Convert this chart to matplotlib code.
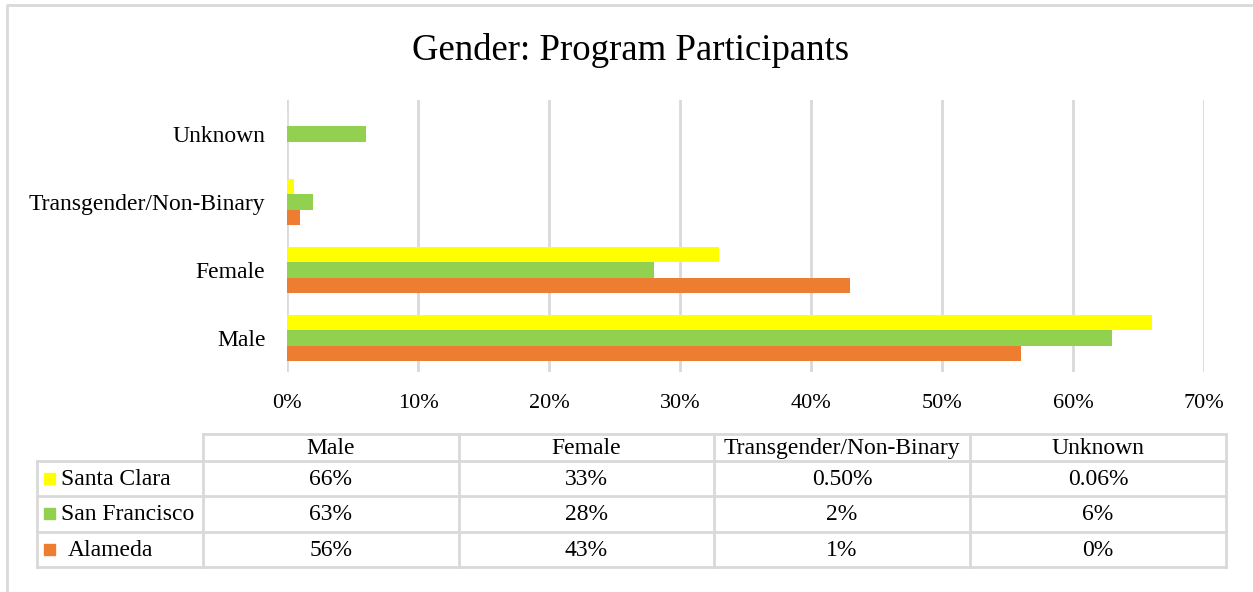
import matplotlib.pyplot as plt

plt.rcParams['font.family'] = ['Liberation Serif', 'DejaVu Serif']

# data
categories = ['Male', 'Female', 'Transgender/Non-Binary', 'Unknown']
series = ['Santa Clara', 'San Francisco', 'Alameda']
santa_clara = [66, 33, 0.5, 0.06]
san_francisco = [63, 28, 2, 6]
alameda = [56, 43, 1, 0]
table_text = [
    ['66%', '33%', '0.50%', '0.06%'],
    ['63%', '28%', '2%', '6%'],
    ['56%', '43%', '1%', '0%'],
]
x_ticks = [0, 10, 20, 30, 40, 50, 60, 70]

colors = ['#FFFF00', '#92D050', '#ED7D31']
grid_c = '#D9D9D9'

W, H = 1253, 592
fig = plt.figure(figsize=(W / 100, H / 100), dpi=100)

# bar chart axes (pixel box: 287..1204 x 100..372)
ax = fig.add_axes([287 / W, 1 - 372 / H, (1204 - 287) / W, (372 - 100) / H])
bh = 0.225
ypos = list(range(len(categories)))
for i, (vals, c) in enumerate(zip([santa_clara, san_francisco, alameda], colors)):
    offs = bh * (1 - i)
    ax.barh([y + offs for y in ypos], [v / 100 for v in vals], height=bh,
            color=c, zorder=3)
ax.set_xlim(0, 0.7)
ax.set_ylim(-0.5, 3.5)
ax.set_xticks([t / 100 for t in x_ticks])
ax.set_xticklabels([f'{t}%' for t in x_ticks], fontsize=16)
ax.set_yticks(ypos)
ax.set_yticklabels(categories, fontsize=17)
ax.tick_params(length=0, pad=16, axis='x')
ax.tick_params(length=0, pad=15.5, axis='y')
ax.grid(axis='x', color=grid_c, lw=2, zorder=0)
for s in ax.spines.values():
    s.set_visible(False)

# overlay in pixel coords for border, title and data table
ov = fig.add_axes([0, 0, 1, 1], zorder=-1)
ov.set_xlim(0, W)
ov.set_ylim(H, 0)
ov.axis('off')
ov.plot([7, 7, W], [H, 5, 5], color=grid_c, lw=2)
ov.text(631, 50, 'Gender: Program Participants', fontsize=26.5,
        ha='center', va='center')

col_x = [37, 203, 459, 714, 970, 1226]
row_y = [434, 461, 496, 532, 567]
lw = 2
# horizontal lines
ov.plot([203, 1226], [434, 434], color=grid_c, lw=lw)
for y in row_y[1:]:
    ov.plot([37, 1226], [y, y], color=grid_c, lw=lw)
# vertical lines
ov.plot([37, 37], [461, 567], color=grid_c, lw=lw)
for x in col_x[1:]:
    ov.plot([x, x], [434, 567], color=grid_c, lw=lw)

for j, cat in enumerate(categories):
    cx = (col_x[j + 1] + col_x[j + 2]) / 2
    ov.text(cx, (row_y[0] + row_y[1]) / 2 + 1, cat, fontsize=17,
            ha='center', va='center')
    for i in range(len(series)):
        ov.text(cx, (row_y[i + 1] + row_y[i + 2]) / 2 + 1, table_text[i][j],
                fontsize=17, ha='center', va='center')

for i, (name, c) in enumerate(zip(series, colors)):
    cy = (row_y[i + 1] + row_y[i + 2]) / 2
    ov.add_patch(plt.Rectangle((44, cy - 6), 11, 11, color=c))
    tx = 68 if name == 'Alameda' else 61
    ov.text(tx, cy + 1, name, fontsize=17, ha='left', va='center')

fig.savefig('out.png', dpi=100)
